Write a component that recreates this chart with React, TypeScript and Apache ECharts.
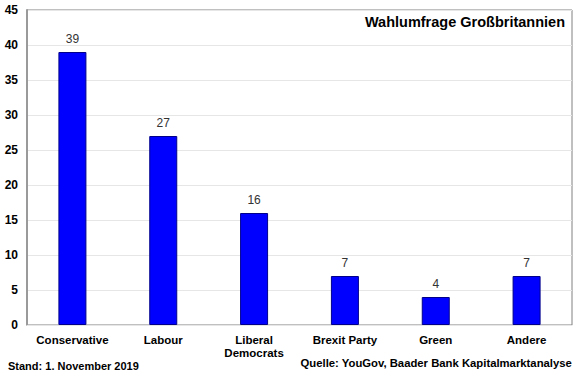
import React, { useEffect, useRef } from "react";
import * as echarts from "echarts";

const categories = ["Conservative", "Labour", "Liberal\nDemocrats", "Brexit Party", "Green", "Andere"];
const values = [39, 27, 16, 7, 4, 7];
const title = "Wahlumfrage Großbritannien";
const footLeft = "Stand: 1. November 2019";
const footRight = "Quelle: YouGov, Baader Bank Kapitalmarktanalyse";

export default function App() {
  const ref = useRef<HTMLDivElement>(null);
  useEffect(() => {
    const chart = echarts.init(ref.current!, null, { renderer: "svg" });
    const font = "'Liberation Sans', Arial, sans-serif";
    chart.setOption({
      animation: false,
      backgroundColor: "#ffffff",
      textStyle: { fontFamily: font },
      grid: {
        left: 27, right: 8, top: 10, bottom: 50,
        show: true, borderColor: "#808080", borderWidth: 1, backgroundColor: "transparent",
      },
      xAxis: {
        type: "category",
        data: categories,
        axisTick: { show: false },
        axisLine: { show: true, lineStyle: { color: "#e6e6e6", width: 1 } },
        axisLabel: { color: "#000", fontWeight: "bold", fontSize: 11.5, fontFamily: font, margin: 8, lineHeight: 13, interval: 0 },
      },
      yAxis: {
        type: "value",
        min: 0, max: 45, interval: 5,
        axisLine: { show: true, lineStyle: { color: "#9a9a9a", width: 2 } },
        axisTick: { show: false },
        splitLine: { show: true, lineStyle: { color: "#e6e6e6", width: 1 } },
        axisLabel: { color: "#000", fontWeight: "bold", fontSize: 12, fontFamily: font, margin: 9 },
      },
      series: [
        {
          type: "bar",
          data: values,
          barWidth: 28,
          itemStyle: { color: "#0000ff", borderColor: "#00008b", borderWidth: 1 },
          label: { show: true, position: "top", color: "#333", fontSize: 12, fontFamily: font, distance: 7 },
        },
      ],
      graphic: [
        { type: "text", right: 15, top: 14, style: { text: title, font: `bold 14.5px ${font}`, fill: "#000" } },
        { type: "text", left: 8, top: 360, style: { text: footLeft, font: `bold 11px ${font}`, fill: "#000" } },
        { type: "text", right: 8, top: 357, style: { text: footRight, font: `bold 11.3px ${font}`, fill: "#000" } },
      ],
    });
    return () => chart.dispose();
  }, []);
  return <div ref={ref} style={{ width: 580, height: 375, position: "absolute", left: 0, top: 0 }} />;
}
